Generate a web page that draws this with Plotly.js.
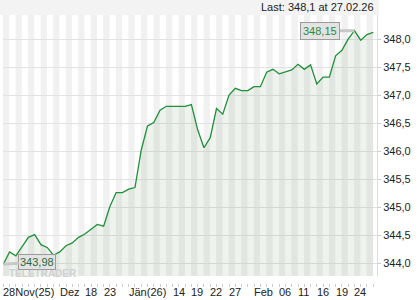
<!DOCTYPE html>
<html>
<head>
<meta charset="utf-8">
<script src="https://cdn.plot.ly/plotly-3.0.1.min.js"></script>
<style>html,body{margin:0;padding:0;background:#fff;}#chart{width:420px;height:300px;}</style>
</head>
<body>
<div id="chart"></div>
<script>
const dates = [
  '2025-11-28',
  '2025-12-01','2025-12-02','2025-12-03','2025-12-04','2025-12-05',
  '2025-12-09','2025-12-10','2025-12-11','2025-12-12',
  '2025-12-15','2025-12-16','2025-12-17','2025-12-18','2025-12-19',
  '2025-12-22','2025-12-23','2025-12-24','2025-12-29','2025-12-30',
  '2026-01-02','2026-01-05','2026-01-07','2026-01-08','2026-01-09',
  '2026-01-12','2026-01-13','2026-01-14','2026-01-15','2026-01-16',
  '2026-01-19','2026-01-20','2026-01-21','2026-01-22','2026-01-23',
  '2026-01-26','2026-01-27','2026-01-28','2026-01-29','2026-01-30',
  '2026-02-02','2026-02-03','2026-02-04','2026-02-05','2026-02-06',
  '2026-02-09','2026-02-10','2026-02-11','2026-02-12','2026-02-13',
  '2026-02-16','2026-02-17','2026-02-18','2026-02-19','2026-02-20',
  '2026-02-23','2026-02-24','2026-02-25','2026-02-26','2026-02-27'
];
const values = [
  343.98,
  344.20, 344.13, 344.29, 344.46, 344.51,
  344.33, 344.28, 344.14, 344.20,
  344.31, 344.36, 344.46, 344.52, 344.60,
  344.69, 344.66, 345.01, 345.26, 345.26,
  345.32, 345.35, 346.02, 346.45, 346.51,
  346.73, 346.80, 346.80, 346.80, 346.80,
  346.83, 346.38, 346.06, 346.24, 346.76,
  346.66, 347.00, 347.12, 347.08, 347.08,
  347.15, 347.15, 347.41, 347.46, 347.38,
  347.41, 347.45, 347.55, 347.46, 347.54,
  347.20, 347.32, 347.32, 347.70, 347.80,
  348.00, 348.15, 347.98, 348.08, 348.12
];
const tickDates = ['2025-11-28','2025-12-12','2025-12-18','2025-12-23','2026-01-02','2026-01-14','2026-01-19','2026-01-22','2026-01-27','2026-02-02','2026-02-06','2026-02-11','2026-02-16','2026-02-19','2026-02-24'];
const tickLabels = ['28Nov(25)','Dez','18','23','Jän(26)','14','19','22','27','Feb','06','11','16','19','24'];
const yTicks = [344.0, 344.5, 345.0, 345.5, 346.0, 346.5, 347.0, 347.5, 348.0];

const FONT = 'Arial, "Liberation Sans", sans-serif';
const H = 268; // paper height in px (300 - 15 - 17)
const fmt = (v, d) => v.toFixed(d).replace('.', ',');

const n = values.length;
let iMax = 0, iMin = 0;
values.forEach((v, i) => { if (v > values[iMax]) iMax = i; if (v < values[iMin]) iMin = i; });
const lastDate = dates[n - 1].split('-');
const lastText = 'Last: ' + fmt(values[n - 1], 1) + ' at ' + lastDate[2] + '.' + lastDate[1] + '.' + lastDate[0].slice(2);

const shapes = [];
// top band
shapes.push({type: 'rect', xref: 'paper', yref: 'paper', x0: -3/374, x1: 1.005, y0: 1, y1: 1 + 15/H,
  fillcolor: '#f3f3f3', line: {width: 0}, layer: 'below'});
// alternating day stripes
for (let k = 0; k < n; k += 2) {
  shapes.push({type: 'rect', xref: 'x', yref: 'y domain', x0: k - 0.05, x1: k + 0.95, y0: 0, y1: 1,
    fillcolor: '#f1f1f1', line: {width: 0}, layer: 'below'});
}

const annotations = [];
tickDates.forEach((d, i) => {
  annotations.push({xref: 'x', yref: 'paper', x: dates.indexOf(d), y: -9/H, xanchor: 'left', yanchor: 'middle',
    text: tickLabels[i], showarrow: false, xshift: -2, font: {family: FONT, size: 11, color: '#222'}});
});
annotations.push({xref: 'paper', yref: 'paper', x: 1, y: 1 + 7.5/H, xanchor: 'right', yanchor: 'middle',
  text: lastText, showarrow: false, xshift: -1, font: {family: FONT, size: 11, color: '#222'}});
annotations.push({xref: 'paper', yref: 'paper', x: 40/374, y: 10/H, xanchor: 'center', yanchor: 'middle',
  text: '<b>TELETRADER</b>', showarrow: false, font: {family: FONT, size: 10, color: '#d0d0d0'}});
annotations.push({xref: 'x', yref: 'y', x: iMax, y: values[iMax], text: fmt(values[iMax], 2),
  showarrow: true, ax: -34, ay: 0, arrowhead: 0, arrowwidth: 3, arrowcolor: '#c8c8c8',
  bgcolor: '#e3e3e3', bordercolor: '#9c9c9c', borderwidth: 1, borderpad: 2,
  font: {family: FONT, size: 11, color: '#2b8a3e'}});
annotations.push({xref: 'x', yref: 'y', x: iMin, y: values[iMin], text: fmt(values[iMin], 2),
  showarrow: true, ax: 34, ay: -2, arrowhead: 0, arrowwidth: 3, arrowcolor: '#c8c8c8',
  bgcolor: 'rgba(225,225,225,0.85)', bordercolor: '#9c9c9c', borderwidth: 1, borderpad: 1,
  font: {family: FONT, size: 11, color: '#2b6a3e'}});

const trace = {
  type: 'scatter', mode: 'lines', x: dates, y: values,
  line: {color: '#1f8f3a', width: 1.3},
  fill: 'tozeroy', fillcolor: 'rgba(70,130,50,0.09)',
  hoverinfo: 'skip'
};

const layout = {
  width: 420, height: 300,
  margin: {l: 3, r: 43, t: 15, b: 17, pad: 0},
  paper_bgcolor: '#ffffff', plot_bgcolor: 'rgba(0,0,0,0)',
  showlegend: false,
  separators: ', ',
  font: {family: FONT, size: 11, color: '#222'},
  xaxis: {
    type: 'category', categoryorder: 'array', categoryarray: dates,
    range: [-0.05, 59.6], anchor: 'free', position: 0,
    showgrid: false, zeroline: false, showline: false,
    ticks: 'outside', ticklen: 3, tickwidth: 1, tickcolor: '#cccccc',
    tickmode: 'array', tickvals: dates, showticklabels: false
  },
  yaxis: {
    side: 'right', domain: [7/H, 1], range: [343.77, 348.43],
    tickmode: 'array', tickvals: yTicks, tickformat: '.1f',
    showgrid: true, gridcolor: '#e2e2e2', gridwidth: 1, zeroline: false,
    showline: true, linecolor: '#dddddd', linewidth: 1,
    ticks: 'outside', ticklen: 3, tickcolor: '#cccccc',
    tickfont: {family: FONT, size: 11, color: '#222'}
  },
  shapes: shapes,
  annotations: annotations
};

Plotly.newPlot('chart', [trace], layout, {staticPlot: true, displayModeBar: false});
</script>
</body>
</html>
